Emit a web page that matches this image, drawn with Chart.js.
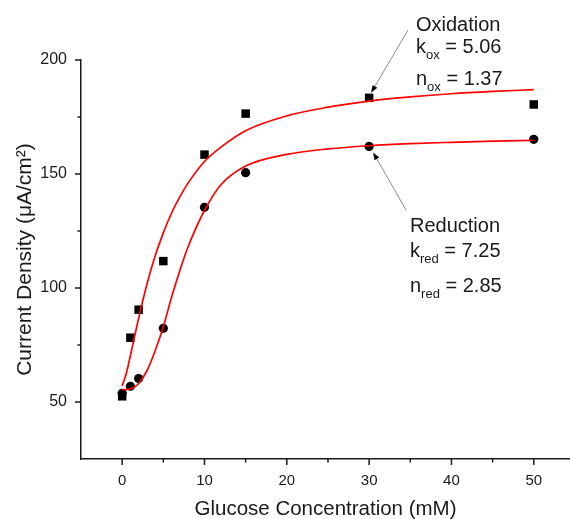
<!DOCTYPE html>
<html>
<head>
<meta charset="utf-8">
<title>Glucose response</title>
<script src="https://cdn.jsdelivr.net/npm/chart.js@4/dist/chart.umd.min.js"></script>
<style>
  html, body { margin: 0; padding: 0; background: #fff; }
  #wrap { width: 570px; height: 519px; }
</style>
</head>
<body>
<div id="wrap"><canvas id="chart" width="570" height="519"></canvas></div>
<script>
// measured points (glucose mM -> current density uA/cm2)
const concentrations = [0, 1, 2, 5, 10, 15, 30, 50]
const oxidation = [52.5, 78.2, 90.5, 111.8, 158.5, 176.5, 183.4, 180.5]
const reduction = [53.8, 56.9, 60.3, 82.3, 135.4, 150.6, 162.1, 165.2]

// fitted curves
const fitX = [0, 0.5, 1, 1.5, 2, 3, 4, 5, 6, 7, 8, 10, 12, 15, 20, 25, 30, 35, 40, 45, 50]
const oxidationFit = [57.0, 62.5, 70.3, 78.6, 86.7, 101.5, 114.0, 124.2, 132.9, 140.0, 146.0, 155.5, 161.8, 169.0, 175.5, 179.3, 182.0, 183.8, 185.2, 186.2, 187.0]
const reductionFit = [55.4, 55.45, 55.8, 56.6, 58.1, 63.6, 72.4, 83.0, 95.9, 107.6, 118.0, 134.0, 145.3, 153.5, 158.6, 161.0, 162.4, 163.3, 163.9, 164.4, 164.8]

const xTicksMajor = [0, 10, 20, 30, 40, 50]
const yTicksMajor = [50, 100, 150, 200]

const oxLabel = { title: "Oxidation", k: "5.06", n: "1.37", sub: "ox" }
const redLabel = { title: "Reduction", k: "7.25", n: "2.85", sub: "red" }

const FONT = "'Liberation Sans', Arial, sans-serif"
const ink = "#1a1a1a"

const toXY = (xs, ys) => xs.map((x, i) => ({ x: x, y: ys[i] }))

// outward major/minor ticks like the original plot
const tickMarks = {
  id: "tickMarks",
  afterDraw(chart) {
    const ctx = chart.ctx
    const xs = chart.scales.x
    const ys = chart.scales.y
    const area = chart.chartArea
    ctx.save()
    ctx.strokeStyle = ink
    ctx.lineWidth = 1.5
    xs.ticks.forEach(t => {
      if (t.value <= xs.min) return
      const px = xs.getPixelForValue(t.value)
      const len = xTicksMajor.includes(t.value) ? 6 : 3.5
      ctx.beginPath()
      ctx.moveTo(px, area.bottom)
      ctx.lineTo(px, area.bottom + len)
      ctx.stroke()
    })
    ys.ticks.forEach(t => {
      if (t.value <= ys.min) return
      const py = ys.getPixelForValue(t.value)
      const len = yTicksMajor.includes(t.value) ? 6 : 3.5
      ctx.beginPath()
      ctx.moveTo(area.left, py)
      ctx.lineTo(area.left - len, py)
      ctx.stroke()
    })
    ctx.restore()
  },
}

function drawArrow(ctx, x1, y1, x2, y2) {
  const ang = Math.atan2(y2 - y1, x2 - x1)
  const head = 8
  ctx.strokeStyle = "#8c8c8c"
  ctx.lineWidth = 1
  ctx.beginPath()
  ctx.moveTo(x1, y1)
  ctx.lineTo(x2 - Math.cos(ang) * head * 0.8, y2 - Math.sin(ang) * head * 0.8)
  ctx.stroke()
  ctx.fillStyle = "#000"
  ctx.beginPath()
  ctx.moveTo(x2, y2)
  ctx.lineTo(x2 - head * Math.cos(ang - 0.35), y2 - head * Math.sin(ang - 0.35))
  ctx.lineTo(x2 - head * Math.cos(ang + 0.35), y2 - head * Math.sin(ang + 0.35))
  ctx.closePath()
  ctx.fill()
}

function drawParamLine(ctx, x, y, sym, sub, val) {
  ctx.font = "20px " + FONT
  ctx.fillText(sym, x, y)
  let cx = x + ctx.measureText(sym).width
  ctx.font = "13px " + FONT
  ctx.fillText(sub, cx, y + 5.8)
  cx += ctx.measureText(sub).width
  ctx.font = "20px " + FONT
  ctx.fillText(" = " + val, cx, y)
}

function drawLabel(ctx, lbl, x, baselines) {
  ctx.fillStyle = ink
  ctx.textAlign = "left"
  ctx.textBaseline = "alphabetic"
  ctx.font = "20px " + FONT
  ctx.fillText(lbl.title, x, baselines[0])
  drawParamLine(ctx, x, baselines[1], "k", lbl.sub, lbl.k)
  drawParamLine(ctx, x, baselines[2], "n", lbl.sub, lbl.n)
}

const annotations = {
  id: "annotations",
  afterDraw(chart) {
    const ctx = chart.ctx
    const xs = chart.scales.x
    const ys = chart.scales.y
    const iOx = concentrations.indexOf(30)
    const oxPx = xs.getPixelForValue(concentrations[iOx])
    const oxPy = ys.getPixelForValue(oxidation[iOx])
    const redPy = ys.getPixelForValue(reduction[iOx])
    ctx.save()
    drawArrow(ctx, 408, 30, oxPx + 2, oxPy - 5)
    drawArrow(ctx, 406, 210, oxPx + 4, redPy + 6)
    drawLabel(ctx, oxLabel, 416, [31, 52.7, 85])
    drawLabel(ctx, redLabel, 410, [231.7, 256.7, 291.7])
    ctx.restore()
  },
}

new Chart(document.getElementById("chart"), {
  type: "scatter",
  data: {
    datasets: [
      {
        label: "Oxidation fit",
        data: toXY(fitX, oxidationFit),
        showLine: true,
        borderColor: "#ff0000",
        borderWidth: 1.7,
        pointRadius: 0,
        cubicInterpolationMode: "monotone",
        order: 0,
      },
      {
        label: "Reduction fit",
        data: toXY(fitX, reductionFit),
        showLine: true,
        borderColor: "#ff0000",
        borderWidth: 1.7,
        pointRadius: 0,
        cubicInterpolationMode: "monotone",
        order: 0,
      },
      {
        label: "Oxidation",
        data: toXY(concentrations, oxidation),
        pointStyle: "rect",
        pointRadius: 6,
        backgroundColor: "#000",
        borderColor: "#000",
        borderWidth: 0,
        order: 1,
      },
      {
        label: "Reduction",
        data: toXY(concentrations, reduction),
        pointStyle: "circle",
        pointRadius: 4.6,
        backgroundColor: "#000",
        borderColor: "#000",
        borderWidth: 0,
        order: 1,
      },
    ],
  },
  options: {
    responsive: false,
    animation: false,
    layout: { autoPadding: false, padding: { top: 60, right: 0, left: 0, bottom: 0 } },
    plugins: {
      legend: { display: false },
      tooltip: { enabled: false },
    },
    scales: {
      x: {
        type: "linear",
        min: -5,
        max: 54.4,
        afterFit: scale => {
          scale.height = 60
          scale.paddingLeft = 0
          scale.paddingRight = 0
        },
        border: { color: ink, width: 1.5 },
        grid: { drawOnChartArea: false, tickColor: "transparent", tickLength: 7 },
        ticks: {
          stepSize: 5,
          includeBounds: false,
          autoSkip: false,
          maxRotation: 0,
          padding: 6,
          color: ink,
          font: { family: FONT, size: 15 },
          callback: v => (xTicksMajor.includes(v) ? String(v) : ""),
        },
        title: {
          display: true,
          text: "Glucose Concentration (mM)",
          color: ink,
          font: { family: FONT, size: 20.5 },
          padding: { top: 0, bottom: -2.5 },
        },
      },
      y: {
        type: "linear",
        min: 25,
        max: 200,
        afterFit: scale => {
          scale.width = 81
          scale.paddingTop = 0
          scale.paddingBottom = 0
        },
        border: { color: ink, width: 1.5 },
        grid: { drawOnChartArea: false, tickColor: "transparent", tickLength: 7 },
        ticks: {
          stepSize: 25,
          includeBounds: false,
          autoSkip: false,
          padding: 7,
          color: ink,
          font: { family: FONT, size: 16 },
          callback: v => (yTicksMajor.includes(v) ? String(v) : ""),
        },
        title: {
          display: true,
          text: "Current Density (μA/cm²)",
          color: ink,
          font: { family: FONT, size: 21 },
          padding: { top: 13, bottom: 0 },
        },
      },
    },
  },
  plugins: [tickMarks, annotations],
})
</script>
</body>
</html>
